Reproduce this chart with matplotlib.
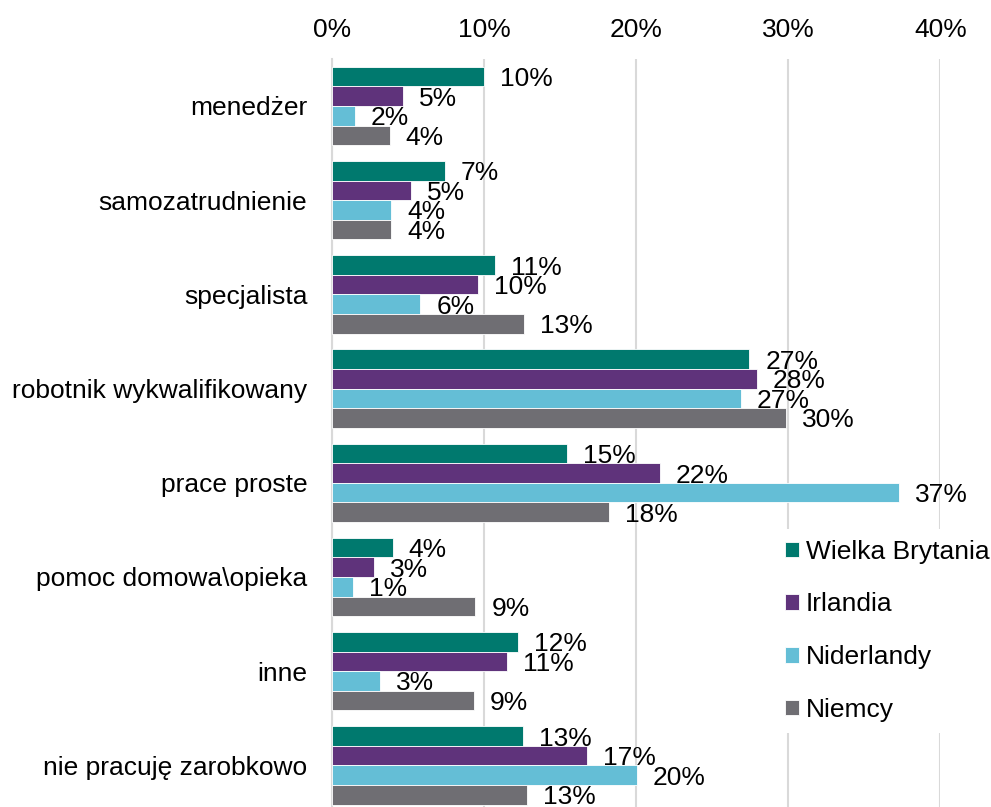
import matplotlib
matplotlib.use("Agg")
import matplotlib.pyplot as plt
import numpy as np

plt.rcParams['font.family'] = ['Liberation Sans', 'DejaVu Sans']

categories = ["menedżer", "samozatrudnienie", "specjalista", "robotnik wykwalifikowany",
              "prace proste", "pomoc domowa\\opieka", "inne", "nie pracuję zarobkowo"]
series_names = ["Wielka Brytania", "Irlandia", "Niderlandy", "Niemcy"]
wielka_brytania = [10.0, 7.41, 10.7, 27.43, 15.44, 3.97, 12.24, 12.57]
irlandia = [4.65, 5.2, 9.59, 27.94, 21.53, 2.72, 11.47, 16.74]
niderlandy = [1.5, 3.86, 5.79, 26.86, 37.28, 1.36, 3.16, 20.03]
niemcy = [3.77, 3.86, 12.59, 29.85, 18.18, 9.41, 9.34, 12.83]
x_ticks = [0, 10, 20, 30, 40]
x_tick_labels = ["0%", "10%", "20%", "30%", "40%"]

colors = ["#00796E", "#5F337B", "#64BED6", "#6F6E73"]
all_series = [wielka_brytania, irlandia, niderlandy, niemcy]

W, H = 991, 807
fig = plt.figure(figsize=(W / 100, H / 100), dpi=100)
ax_left, ax_right = 332.3, 940.3
ax_top, ax_bottom = 58.9, 812.5
ax = fig.add_axes([ax_left / W, 1 - ax_bottom / H, (ax_right - ax_left) / W, (ax_bottom - ax_top) / H])

n = len(categories)
bh = 0.208
y = np.arange(n)
for i, (vals, c, name) in enumerate(zip(all_series, colors, series_names)):
    ypos = y - 1.5 * bh + i * bh
    ax.barh(ypos, vals, height=bh, color=c, edgecolor='white', linewidth=0.6, label=name, zorder=3)
    for yy, v in zip(ypos, vals):
        ax.annotate(f"{round(v):.0f}%", xy=(v, yy), xytext=(11.5, -1.8), textcoords='offset points',
                    ha='left', va='center', fontsize=19, color='black', zorder=4)

ax.set_xlim(0, 40)
ax.set_ylim(n - 0.5, -0.5)
ax.set_xticks(x_ticks)
ax.set_xticklabels(x_tick_labels, fontsize=19)
ax.xaxis.tick_top()
ax.tick_params(axis='x', length=0, pad=12.5)
ax.set_yticks(y)
ax.set_yticklabels(categories, fontsize=19)
ax.tick_params(axis='y', length=0, pad=18)
ax.grid(axis='x', color='#D9D9D9', linewidth=1.5, zorder=0)
for s in ['top', 'right', 'bottom']:
    ax.spines[s].set_visible(False)
ax.spines['left'].set_color('#D9D9D9')
ax.spines['left'].set_linewidth(1.5)

leg = fig.legend(loc='center left', bbox_to_anchor=((785 - 10.6) / W, 1 - 630.8 / H),
                 bbox_transform=fig.transFigure, fontsize=19, frameon=True,
                 facecolor='white', edgecolor='none', framealpha=1, fancybox=False,
                 handlelength=0.53, handleheight=0.53, handletextpad=0.25,
                 labelspacing=1.09, borderpad=0.4, borderaxespad=0)
leg.set_zorder(10)

fig.savefig("out.png", dpi=100)
